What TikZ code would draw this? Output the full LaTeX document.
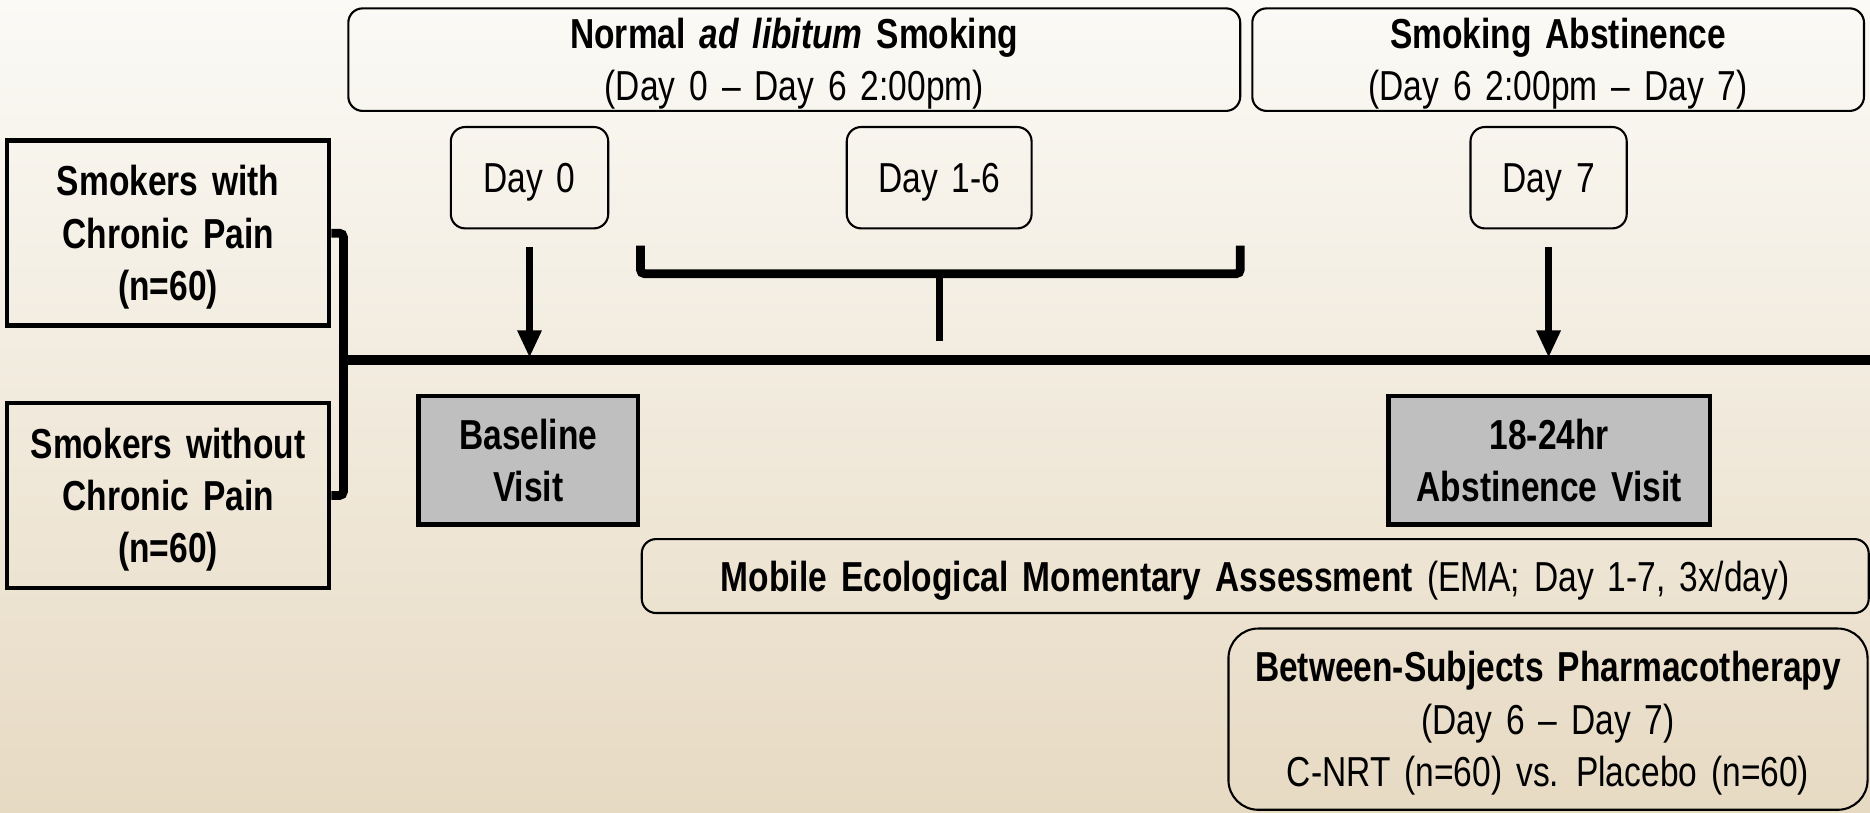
\documentclass[tikz,border=0pt]{standalone}
\usepackage{fontspec}
\setmainfont{Liberation Sans}[FakeStretch=0.8, WordSpace=1.5]
\usetikzlibrary{arrows.meta}
\definecolor{bgtop}{HTML}{FBFAF6}
\definecolor{bgbot}{HTML}{E7DAC3}
\definecolor{visitgray}{HTML}{BFBFBF}
\tikzset{
  txt/.style={font=\fontsize{20}{25}\selectfont, align=center, inner sep=0pt, text depth=0pt},
  one/.style={text height=14.3pt},
  two/.style={text height=39.3pt},
  three/.style={text height=64.3pt},
  rbox/.style={txt, draw=black, line width=1pt, rounded corners=0.24cm},
  sbox/.style={txt, draw=black, line width=2.2pt},
  gbox/.style={sbox, fill=visitgray},
  timeline/.style={line width=4.6pt},
  brace/.style={line width=4.2pt, rounded corners=2pt},
  stem/.style={line width=3.2pt},
  arr/.style={line width=3.4pt, -{Triangle[length=0.46cm, width=0.38cm]}},
}
\begin{document}
\begin{tikzpicture}[x=0.02cm, y=-0.02cm]
\useasboundingbox (0,0) rectangle (1568,681);
\shade[top color=bgtop, bottom color=bgbot] (0,0) rectangle (1568,681);

% phase boxes
\node[rbox, two, minimum width=14.96cm, minimum height=1.72cm] (ph1) at (666,50)
  {\textbf{Normal \textit{ad libitum} Smoking}\\(Day 0 -- Day 6 2:00pm)};
\node[rbox, two, minimum width=10.26cm, minimum height=1.72cm] (ph2) at (1306.5,50)
  {\textbf{Smoking Abstinence}\\(Day 6 2:00pm -- Day 7)};

% day boxes
\node[rbox, one, minimum width=2.64cm, minimum height=1.70cm] (d0) at (444,149) {Day 0};
\node[rbox, one, minimum width=3.10cm, minimum height=1.70cm] (d16) at (787.5,149) {Day 1-6};
\node[rbox, one, minimum width=2.62cm, minimum height=1.70cm] (d7) at (1298.5,149) {Day 7};

% groups
\node[sbox, three, minimum width=5.40cm, minimum height=3.10cm] (sw) at (141,195.5)
  {\textbf{Smokers with}\\\textbf{Chronic Pain}\\\textbf{(n=60)}};
\node[sbox, three, minimum width=5.40cm, minimum height=3.10cm] (swo) at (141,415.5)
  {\textbf{Smokers without}\\\textbf{Chronic Pain}\\\textbf{(n=60)}};

% visits
\node[gbox, two, minimum width=3.68cm, minimum height=2.16cm] (bv) at (443,386)
  {\textbf{Baseline}\\\textbf{Visit}};
\node[gbox, two, minimum width=5.40cm, minimum height=2.16cm] (av) at (1299,386)
  {\textbf{18-24hr}\\\textbf{Abstinence Visit}};

% EMA
\node[rbox, one, minimum width=20.58cm, minimum height=1.24cm] (ema) at (1052.5,483)
  {\textbf{Mobile Ecological Momentary Assessment} (EMA; Day 1-7, 3x/day)};

% pharmacotherapy
\node[rbox, three, rounded corners=0.5cm, minimum width=10.72cm, minimum height=3.04cm] (ph) at (1298,603)
  {\textbf{Between-Subjects Pharmacotherapy}\\(Day 6 -- Day 7)\\C-NRT (n=60) vs. Placebo (n=60)};

% timeline
\coordinate (brk) at (288,302);
\coordinate (tend) at (1568,302);
\draw[brace] (sw.east) -| (brk) |- (swo.east);
\draw[timeline] (brk) -- (tend);

% arrows
\draw[arr] ([yshift=-0.30cm]d0.south) -- ([yshift=0.04cm]d0.south |- brk);
\draw[arr] ([yshift=-0.30cm]d7.south) -- ([yshift=0.04cm]d7.south |- brk);

% day 1-6 bracket
\coordinate (bl) at (537,206);
\coordinate (br) at (1040,206);
\coordinate (bmid) at (787.5,229.5);
\coordinate (bstem) at (787.5,286);
\draw[brace] (bl) |- (bmid) -| (br);
\draw[stem] (bmid) -- (bstem);
\end{tikzpicture}
\end{document}
